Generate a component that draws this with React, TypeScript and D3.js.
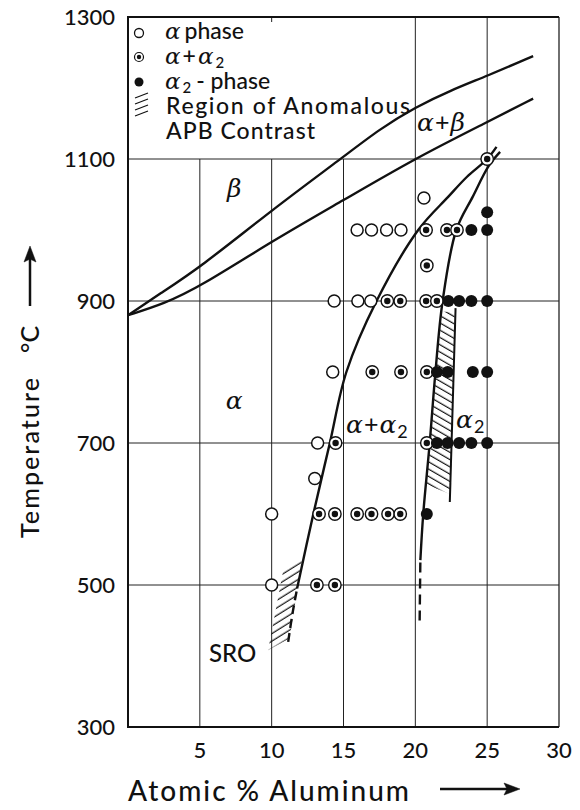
import React from "react";
import * as d3 from "d3";

const W = 580;
const H = 810;

const X_TICKS = [5, 10, 15, 20, 25, 30];
const Y_TICKS = [300, 500, 700, 900, 1100, 1300];
const X_GRID_SHORT = [5, 10, 15]; // stop at 1100, legend sits above
const X_GRID_FULL = [20, 25];
const Y_GRID = [500, 700, 900, 1100];

// observations: [at.% Al, temperature °C]
const alphaPhase = [
  [10, 500], [10, 600], [13, 650], [13.2, 700], [14.25, 800],
  [14.35, 900], [16.0, 900], [16.9, 900],
  [15.95, 1000], [16.95, 1000], [18.0, 1000], [19.0, 1000], [20.6, 1045],
];
const alphaAlpha2 = [
  [13.15, 500], [14.4, 500],
  [13.3, 600], [14.4, 600], [15.95, 600], [16.95, 600], [18.1, 600], [18.95, 600],
  [14.45, 700], [20.8, 700],
  [17.0, 800], [19.0, 800], [20.8, 800],
  [18.05, 900], [18.95, 900], [20.75, 900], [21.5, 900],
  [20.8, 950],
  [20.75, 1000], [22.2, 1000], [22.9, 1000],
  [25.0, 1100],
];
const alpha2Phase = [
  [20.8, 600],
  [21.5, 700], [22.25, 700], [23.05, 700], [23.9, 700], [25.0, 700],
  [21.5, 800], [22.25, 800], [24.0, 800], [25.0, 800],
  [22.3, 900], [23.05, 900], [23.9, 900], [25.0, 900],
  [23.9, 1000], [25.0, 1000],
  [25.0, 1025],
];

// phase boundaries
const betaUpper = [
  [0, 880], [2.2, 910], [5, 947], [10, 1028], [15, 1103], [17.5, 1142],
  [20, 1173], [22.5, 1197], [25, 1217], [28.2, 1245],
];
const betaLower = [
  [0, 880], [2.5, 896], [5, 920], [10, 984], [15, 1042], [20, 1101], [25, 1152], [28.2, 1185],
];
const alphaBoundary = [
  [11.77, 495], [12.9, 600], [14.05, 700], [15.2, 800], [17.3, 900],
  [20.2, 1000], [22.3, 1047], [23.6, 1075], [25.0, 1100], [25.65, 1117],
];
const alphaBoundaryTail = [[11.15, 420], [11.45, 460], [11.77, 495]];
const alpha2Boundary = [
  [20.35, 535], [20.55, 600], [21.0, 700], [21.4, 800], [21.9, 900],
  [22.85, 1000], [24.0, 1047], [25.1, 1090], [25.9, 1110],
];
const alpha2BoundaryTail = [[20.3, 450], [20.35, 535]];

// hatched regions
const apbRegion = [[21.85, 885], [22.75, 885], [22.4, 628], [20.73, 642]];
const apbEdge = [[22.8, 890], [22.4, 617]];
const sroRegion = [[12.1, 535], [11.25, 425], [9.75, 408], [10.8, 520]];

const LEGEND_ROWS = [39, 64, 89, 114, 139];

export default function App() {
  const x = d3.scaleLinear().domain([0, 30]).range([128, 559]);
  const y = d3.scaleLinear().domain([300, 1300]).range([727, 17]);

  const line = d3
    .line<number[]>()
    .x((d) => x(d[0]))
    .y((d) => y(d[1]))
    .curve(d3.curveCatmullRom.alpha(0.5));
  const smooth = d3
    .line<number[]>()
    .x((d) => x(d[0]))
    .y((d) => y(d[1]))
    .curve(d3.curveBasis);
  const poly = d3
    .line<number[]>()
    .x((d) => x(d[0]))
    .y((d) => y(d[1]))
    .curve(d3.curveLinearClosed);

  const sans = "Lato, 'Open Sans', sans-serif";
  const greek = "'DejaVu Serif', 'Liberation Serif', serif";
  const ink = "#111";

  return (
    <svg
      width={W}
      height={H}
      style={{ position: "absolute", left: 0, top: 0, background: "#fff" }}
    >
      <defs>
        <pattern id="apb" patternUnits="userSpaceOnUse" width={20} height={6.3} patternTransform="rotate(30)">
          <line x1={0} y1={3} x2={20} y2={3} stroke={ink} strokeWidth={1.2} />
        </pattern>
        <pattern id="sro" patternUnits="userSpaceOnUse" width={20} height={6.4} patternTransform="rotate(-32)">
          <line x1={0} y1={3} x2={20} y2={3} stroke={ink} strokeWidth={1.2} />
        </pattern>
      </defs>

      {/* grid */}
      <g stroke="#222" strokeWidth={1}>
        {Y_GRID.map((t) => (
          <line key={"h" + t} x1={x(0)} x2={x(30)} y1={y(t)} y2={y(t)} />
        ))}
        {X_GRID_SHORT.map((v) => (
          <line key={"s" + v} x1={x(v)} x2={x(v)} y1={y(300)} y2={y(1100)} />
        ))}
        {X_GRID_FULL.map((v) => (
          <line key={"f" + v} x1={x(v)} x2={x(v)} y1={y(300)} y2={y(1300)} />
        ))}
        <line x1={x(10)} x2={x(10)} y1={y(1300)} y2={y(1300) + 5} />
        <line x1={x(30)} x2={x(30)} y1={y(300)} y2={y(1300)} strokeWidth={1.3} />
      </g>
      {/* frame */}
      <path
        d={`M${x(30)},${y(1300)}H${x(0)}V${y(300)}H${x(30)}`}
        fill="none"
        stroke={ink}
        strokeWidth={2}
      />

      {/* hatched regions */}
      <path d={poly(apbRegion) || ""} fill="url(#apb)" />
      <path d={poly(sroRegion) || ""} fill="url(#sro)" />
      <path d={line(apbEdge) || ""} fill="none" stroke={ink} strokeWidth={2} />

      {/* boundaries */}
      <g fill="none" stroke={ink} strokeWidth={2.4}>
        <path d={smooth(betaUpper) || ""} />
        <path d={smooth(betaLower) || ""} />
        <path d={line(alphaBoundary) || ""} />
        <path d={line(alpha2Boundary) || ""} />
        <path d={line(alphaBoundaryTail) || ""} strokeDasharray="9 5" />
        <path d={line(alpha2BoundaryTail) || ""} strokeDasharray="10 6" />
      </g>

      {/* points */}
      <g>
        {alphaPhase.map((d, i) => (
          <circle key={"a" + i} cx={x(d[0])} cy={y(d[1])} r={6} fill="#fff" stroke={ink} strokeWidth={1.5} />
        ))}
        {alphaAlpha2.map((d, i) => (
          <g key={"b" + i}>
            <circle cx={x(d[0])} cy={y(d[1])} r={6.2} fill="#fff" stroke={ink} strokeWidth={1.4} />
            <circle cx={x(d[0])} cy={y(d[1])} r={3.2} fill={ink} />
          </g>
        ))}
        {alpha2Phase.map((d, i) => (
          <circle key={"c" + i} cx={x(d[0])} cy={y(d[1])} r={6} fill={ink} />
        ))}
      </g>

      {/* axis tick labels */}
      <g fontFamily={sans} fontSize={22} fontWeight={500} fill={ink}>
        {Y_TICKS.map((t) => (
          <text key={"yt" + t} x={115} y={y(t)} dy="0.36em" textAnchor="end">
            {t}
          </text>
        ))}
        {X_TICKS.map((v) => (
          <text key={"xt" + v} x={x(v)} y={758} textAnchor="middle">
            {v}
          </text>
        ))}
      </g>

      {/* axis titles */}
      <g fontFamily={sans} fontWeight={500} fill={ink}>
        <text x={128} y={801} fontSize={28} textLength={281} lengthAdjust="spacing">
          Atomic % Aluminum
        </text>
        <text transform="translate(39,538) rotate(-90)" fontSize={25} textLength={160} lengthAdjust="spacing">
          Temperature
        </text>
        <text transform="translate(39,353) rotate(-90)" fontSize={25}>
          °C
        </text>
      </g>
      <g stroke={ink} strokeWidth={2.5} fill={ink}>
        <line x1={440} x2={508} y1={789} y2={789} />
        <path d="M520,789 L504,783 L507,789 L504,795 Z" strokeWidth={0.5} />
        <line x1={30} x2={30} y1={306} y2={258} />
        <path d="M30,246 L24,262 L30,259 L36,262 Z" strokeWidth={0.5} />
      </g>

      {/* legend */}
      <g fontFamily={sans} fontSize={23} fontWeight={500} fill={ink}>
        <circle cx={139} cy={33} r={4.5} fill="#fff" stroke={ink} strokeWidth={1.3} />
        <circle cx={139} cy={57} r={4.5} fill="#fff" stroke={ink} strokeWidth={1.2} />
        <circle cx={139} cy={57} r={2.2} fill={ink} />
        <circle cx={139} cy={82} r={4.5} fill={ink} />
        <g stroke={ink} strokeWidth={1.2}>
          {[0, 1, 2, 3].map((k) => (
            <line key={k} x1={135} y1={98 + k * 6} x2={148} y2={93 + k * 6} />
          ))}
        </g>
        <text x={165} y={LEGEND_ROWS[0]}>
          <tspan fontFamily={greek} fontStyle="italic">α</tspan>
          <tspan dx={4}>phase</tspan>
        </text>
        <text x={165} y={LEGEND_ROWS[1]}>
          <tspan fontFamily={greek} fontStyle="italic">α</tspan>
          <tspan dx={2}>+</tspan>
          <tspan dx={2} fontFamily={greek} fontStyle="italic">α</tspan>
          <tspan fontSize={15} dx={2} dy={4}>2</tspan>
        </text>
        <text x={165} y={LEGEND_ROWS[2]}>
          <tspan fontFamily={greek} fontStyle="italic">α</tspan>
          <tspan fontSize={15} dx={2} dy={4}>2</tspan>
          <tspan dy={-4} dx={5}>- phase</tspan>
        </text>
        <text x={166} y={LEGEND_ROWS[3]} textLength={244} lengthAdjust="spacing">
          Region of Anomalous
        </text>
        <text x={166} y={LEGEND_ROWS[4]} textLength={149} lengthAdjust="spacing">
          APB Contrast
        </text>
      </g>

      {/* region labels */}
      <g fill={ink} fontSize={25}>
        <text x={x(7.4)} y={197} fontFamily={greek} fontStyle="italic" textAnchor="middle">β</text>
        <text x={x(7.4)} y={409} fontFamily={greek} fontStyle="italic" textAnchor="middle">α</text>
        <text x={417} y={131}>
          <tspan fontFamily={greek} fontStyle="italic">α</tspan>
          <tspan fontFamily={sans} dx={1}>+</tspan>
          <tspan fontFamily={greek} fontStyle="italic" dx={1}>β</tspan>
        </text>
        <text x={346} y={433}>
          <tspan fontFamily={greek} fontStyle="italic">α</tspan>
          <tspan fontFamily={sans} dx={1}>+</tspan>
          <tspan fontFamily={greek} fontStyle="italic" dx={1}>α</tspan>
          <tspan fontFamily={sans} fontSize={18} dx={1} dy={5}>2</tspan>
        </text>
        <text x={456} y={428}>
          <tspan fontFamily={greek} fontStyle="italic">α</tspan>
          <tspan fontFamily={sans} fontSize={18} dx={1} dy={5}>2</tspan>
        </text>
        <text x={209} y={662} fontFamily={sans} fontWeight={500} fontSize={24}>SRO</text>
      </g>
    </svg>
  );
}
